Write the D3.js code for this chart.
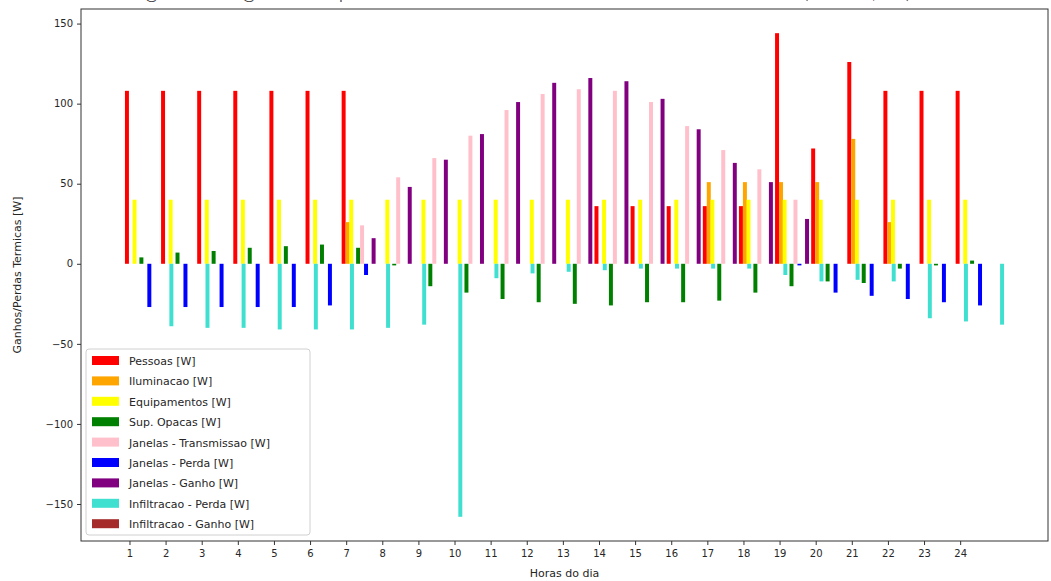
<!DOCTYPE html>
<html>
<head>
<meta charset="utf-8">
<script src="https://cdn.jsdelivr.net/npm/d3@7"></script>
<style>
  body { margin: 0; background: #fff; }
  text { font-family: "DejaVu Sans", sans-serif; fill: #262626; }
</style>
</head>
<body>
<div id="chart"></div>
<script>
// Horas do dia
const hours = [1, 2, 3, 4, 5, 6, 7, 8, 9, 10, 11, 12, 13, 14, 15, 16, 17, 18, 19, 20, 21, 22, 23, 24]

// Ganhos / perdas por hora [W]
const pessoas = [108, 108, 108, 108, 108, 108, 108, 0, 0, 0, 0, 0, 0, 36, 36, 36, 36, 36, 144, 72, 126, 108, 108, 108]
const iluminacao = [0, 0, 0, 0, 0, 0, 26, 0, 0, 0, 0, 0, 0, 0, 0, 0, 51, 51, 51, 51, 78, 26, 0, 0]
const equipamentos = [40, 40, 40, 40, 40, 40, 40, 40, 40, 40, 40, 40, 40, 40, 40, 40, 40, 40, 40, 40, 40, 40, 40, 40]
const supOpacas = [4, 7, 8, 10, 11, 12, 10, -1, -14, -18, -22, -24, -25, -26, -24, -24, -23, -18, -14, -11, -12, -3, -1, 2]
const janelasTransmissao = [0, 0, 0, 0, 0, 0, 24, 54, 66, 80, 96, 106, 109, 108, 101, 86, 71, 59, 40, 0, 0, 0, 0, 0]
const janelasPerda = [-27, -27, -27, -27, -27, -26, -7, 0, 0, 0, 0, 0, 0, 0, 0, 0, 0, 0, -1, -18, -20, -22, -24, -26]
const janelasGanho = [0, 0, 0, 0, 0, 0, 16, 48, 65, 81, 101, 113, 116, 114, 103, 84, 63, 51, 28, 0, 0, 0, 0, 0]
const infiltracaoPerda = [-39, -40, -40, -41, -41, -41, -40, -38, -158, -9, -6, -5, -4, -3, -3, -3, -3, -7, -11, -10, -11, -34, -36, -38]
const infiltracaoGanho = [0, 0, 0, 0, 0, 0, 0, 0, 0, 0, 0, 0, 0, 0, 0, 0, 0, 0, 0, 0, 0, 0, 0, 0]

const yTicks = [-150, -100, -50, 0, 50, 100, 150]

const series = [
  { label: "Pessoas [W]", values: pessoas, color: "#ff0000", offset: -0.07 },
  { label: "Iluminacao [W]", values: iluminacao, color: "#ffa500", offset: 0.04 },
  { label: "Equipamentos [W]", values: equipamentos, color: "#ffff00", offset: 0.14 },
  { label: "Sup. Opacas  [W]", values: supOpacas, color: "#008000", offset: 0.33 },
  { label: "Janelas - Transmissao [W]", values: janelasTransmissao, color: "#ffc0cb", offset: 0.44 },
  { label: "Janelas - Perda [W]", values: janelasPerda, color: "#0000ff", offset: 0.55 },
  { label: "Janelas - Ganho [W]", values: janelasGanho, color: "#800080", offset: 0.76 },
  { label: "Infiltracao - Perda [W]", values: infiltracaoPerda, color: "#40e0d0", offset: 1.16 },
  { label: "Infiltracao - Ganho [W]", values: infiltracaoGanho, color: "#a52a2a", offset: 0.97 },
]

const barWidth = 0.11

const dimensions = {
  width: 1051,
  height: 581,
  margin: { top: 9, right: 3, bottom: 40, left: 81 },
}
dimensions.boundedWidth = dimensions.width - dimensions.margin.left - dimensions.margin.right
dimensions.boundedHeight = dimensions.height - dimensions.margin.top - dimensions.margin.bottom

// matplotlib style 5% margins around the data
const pad = (lo, hi) => [lo - (hi - lo) * 0.05, hi + (hi - lo) * 0.05]

const offsets = series.map(s => s.offset)
const xDomain = pad(
  d3.min(hours) + d3.min(offsets) - barWidth / 2,
  d3.max(hours) + d3.max(offsets) + barWidth / 2
)
const allValues = series.flatMap(s => s.values)
const yDomain = pad(Math.min(0, d3.min(allValues)), Math.max(0, d3.max(allValues)))

const xScale = d3.scaleLinear()
  .domain(xDomain)
  .range([0, dimensions.boundedWidth])

const yScale = d3.scaleLinear()
  .domain(yDomain)
  .range([dimensions.boundedHeight, 0])

const svg = d3.select("#chart")
  .append("svg")
    .attr("width", dimensions.width)
    .attr("height", dimensions.height)
    .style("display", "block")

// Title sits above the visible area, only its descenders show, as in the picture
svg.append("text")
  .attr("x", 512)
  .attr("y", -2)
  .attr("text-anchor", "middle")
  .style("font-family", "Lato, sans-serif")
  .style("font-size", "23px")
  .style("font-weight", 300)
  .style("fill", "#333")
  .text("Diagrama de ganhos e perdas térmicas na sala durante o dia de verão (Lisboa, W)")

const bounds = svg.append("g")
  .attr("transform", `translate(${dimensions.margin.left}, ${dimensions.margin.top})`)

// Bars, one group per series
series.forEach(s => {
  bounds.append("g")
    .selectAll("rect")
    .data(hours.map((h, i) => ({ hour: h, value: s.values[i] })))
    .enter().append("rect")
      .attr("x", d => xScale(d.hour + s.offset - barWidth / 2))
      .attr("width", xScale(barWidth) - xScale(0))
      .attr("y", d => yScale(Math.max(0, d.value)))
      .attr("height", d => Math.abs(yScale(d.value) - yScale(0)))
      .attr("fill", s.color)
})

// Axes
const xAxis = d3.axisBottom(xScale)
  .tickValues(hours)
  .tickFormat(d3.format("d"))
  .tickSizeOuter(0)
  .tickSize(4)
  .tickPadding(5)

const yAxis = d3.axisLeft(yScale)
  .tickValues(yTicks)
  .tickFormat(d => d < 0 ? `\u2212${Math.abs(d)}` : `${d}`)
  .tickSizeOuter(0)
  .tickSize(4)
  .tickPadding(4)

const xAxisGroup = bounds.append("g")
  .attr("transform", `translate(0, ${dimensions.boundedHeight})`)
  .call(xAxis)

const yAxisGroup = bounds.append("g")
  .call(yAxis)

;[xAxisGroup, yAxisGroup].forEach(g => {
  g.selectAll("text")
    .style("font-size", "10px")
    .style("font-family", "DejaVu Sans, sans-serif")
    .attr("fill", "#262626")
  g.selectAll("line").attr("stroke", "#333")
  g.select(".domain").remove()
})

// Frame
bounds.append("rect")
  .attr("width", dimensions.boundedWidth)
  .attr("height", dimensions.boundedHeight)
  .attr("fill", "none")
  .attr("stroke", "#333")
  .attr("stroke-width", 1)

// Axis labels
svg.append("text")
  .attr("x", dimensions.margin.left + dimensions.boundedWidth / 2)
  .attr("y", 577)
  .attr("text-anchor", "middle")
  .style("font-size", "11px")
  .text("Horas do dia")

svg.append("text")
  .attr("transform", `translate(21, ${dimensions.margin.top + dimensions.boundedHeight / 2}) rotate(-90)`)
  .attr("text-anchor", "middle")
  .style("font-size", "11px")
  .text("Ganhos/Perdas Termicas [W]")

// Legend, lower left
const legend = bounds.append("g")
  .attr("transform", `translate(5, ${dimensions.boundedHeight - 192})`)

legend.append("rect")
  .attr("width", 224)
  .attr("height", 186)
  .attr("rx", 3)
  .attr("fill", "#fff")
  .attr("fill-opacity", 0.85)
  .attr("stroke", "#d0d0d0")

const legendRows = legend.selectAll(".legend-row")
  .data(series)
  .enter().append("g")
    .attr("class", "legend-row")
    .attr("transform", (d, i) => `translate(6, ${7 + i * 20.4})`)

legendRows.append("rect")
  .attr("width", 27)
  .attr("height", 9)
  .attr("fill", d => d.color)

legendRows.append("text")
  .attr("x", 37)
  .attr("y", 9)
  .style("font-size", "11px")
  .text(d => d.label)
</script>
</body>
</html>
